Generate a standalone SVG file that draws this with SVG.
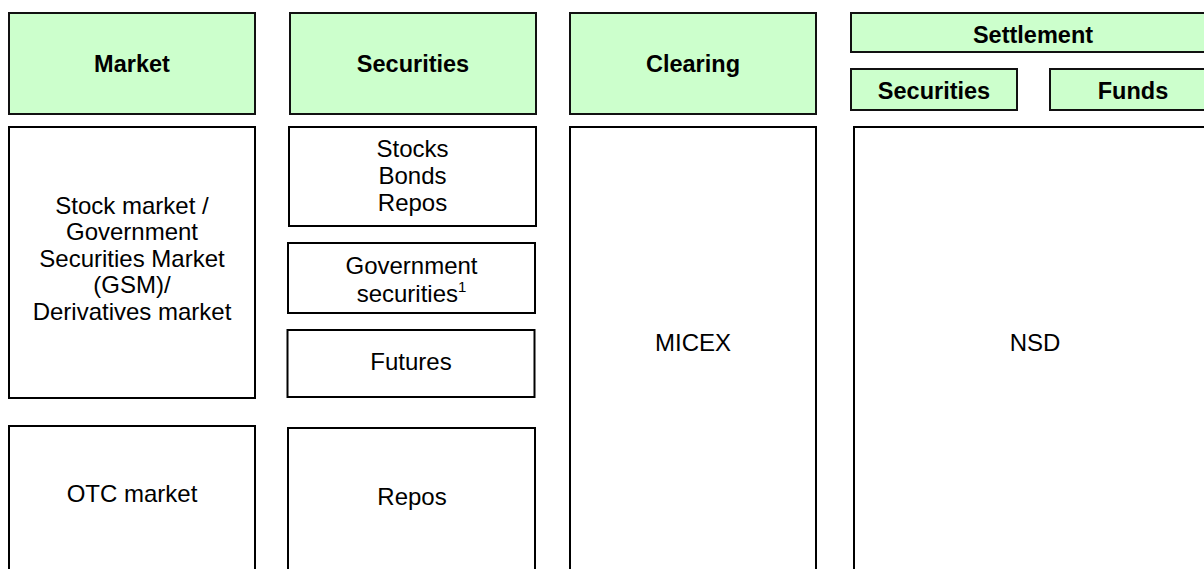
<svg xmlns="http://www.w3.org/2000/svg" width="1204" height="569" viewBox="0 0 1204 569">
  <style>
    .hdr { fill: #CCFFCC; stroke: #111; stroke-width: 2; }
    .box { fill: #FFFFFF; stroke: #000; stroke-width: 2; }
    .ht { font-family: "Liberation Sans", Arial, sans-serif; font-size: 23.5px; font-weight: bold; fill: #000; text-anchor: middle; }
    .bt { font-family: "Liberation Sans", Arial, sans-serif; font-size: 24px; fill: #000; text-anchor: middle; }
  </style>
  <rect width="1204" height="569" fill="#FFFFFF"/>

  <g id="hdr-market">
    <rect class="hdr" x="9" y="13" width="246" height="101"/>
    <text class="ht" x="132" y="72">Market</text>
  </g>
  <g id="hdr-securities">
    <rect class="hdr" x="290" y="13" width="246" height="101"/>
    <text class="ht" x="413" y="72">Securities</text>
  </g>
  <g id="hdr-clearing">
    <rect class="hdr" x="570" y="13" width="246" height="101"/>
    <text class="ht" x="693" y="72">Clearing</text>
  </g>
  <g id="hdr-settlement">
    <rect class="hdr" x="851" y="13" width="366" height="39"/>
    <text class="ht" x="1033" y="43">Settlement</text>
  </g>
  <g id="hdr-settle-securities">
    <rect class="hdr" x="851" y="69" width="166" height="41"/>
    <text class="ht" x="934" y="99">Securities</text>
  </g>
  <g id="hdr-settle-funds">
    <rect class="hdr" x="1050" y="69" width="166" height="41"/>
    <text class="ht" x="1133" y="99">Funds</text>
  </g>

  <g id="stock-market">
    <rect class="box" x="9" y="127" width="246" height="271"/>
    <text class="bt" x="132" y="213.5">Stock market /</text>
    <text class="bt" x="132" y="240">Government</text>
    <text class="bt" x="132" y="266.5">Securities Market</text>
    <text class="bt" x="132" y="293">(GSM)/</text>
    <text class="bt" x="132" y="319.5">Derivatives market</text>
  </g>
  <g id="otc-market">
    <rect class="box" x="9" y="426" width="246" height="170"/>
    <text class="bt" x="132" y="502">OTC market</text>
  </g>

  <g id="stocks-bonds-repos">
    <rect class="box" x="289" y="127" width="247" height="99"/>
    <text class="bt" x="412.5" y="157">Stocks</text>
    <text class="bt" x="412.5" y="184">Bonds</text>
    <text class="bt" x="412.5" y="211">Repos</text>
  </g>
  <g id="gov-securities">
    <rect class="box" x="288" y="243" width="247" height="70"/>
    <text class="bt" x="411.5" y="274">Government</text>
    <text class="bt" x="411.5" y="301.5">securities<tspan dy="-10" font-size="15">1</tspan></text>
  </g>
  <g id="futures">
    <rect class="box" x="287.5" y="330" width="247" height="67"/>
    <text class="bt" x="411" y="369.5">Futures</text>
  </g>
  <g id="repos">
    <rect class="box" x="288" y="428" width="247" height="170"/>
    <text class="bt" x="412" y="505">Repos</text>
  </g>

  <g id="micex">
    <rect class="box" x="570" y="127" width="246" height="470"/>
    <text class="bt" x="693" y="351">MICEX</text>
  </g>
  <g id="nsd">
    <rect class="box" x="854" y="127" width="370" height="470"/>
    <text class="bt" x="1035" y="351">NSD</text>
  </g>

  <g id="connectors"></g>
</svg>
